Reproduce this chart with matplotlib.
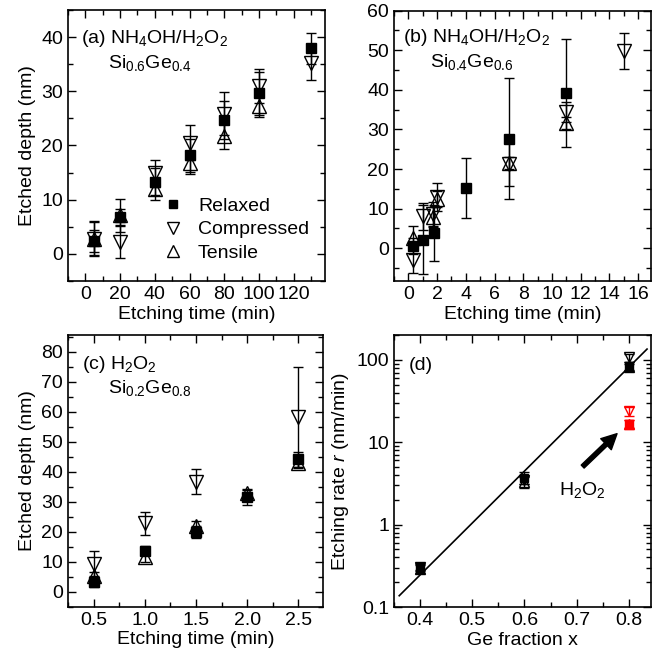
import numpy as np
import matplotlib
matplotlib.use('Agg')
import matplotlib.pyplot as plt
from matplotlib.ticker import MultipleLocator, FormatStrFormatter
from matplotlib.legend_handler import HandlerErrorbar

plt.rcParams['font.family'] = ['Liberation Sans', 'DejaVu Sans']
plt.rcParams['mathtext.fontset'] = 'custom'
plt.rcParams['mathtext.rm'] = 'Liberation Sans'
plt.rcParams['mathtext.it'] = 'Liberation Sans:italic'
plt.rcParams['mathtext.default'] = 'regular'
plt.rcParams['font.size'] = 14

# (a) NH4OH/H2O2, Si0.6Ge0.4
a_t_rel = [5, 20, 40, 60, 80, 100, 130]
a_rel = [2.4, 6.8, 13.3, 18.2, 24.7, 29.6, 37.9]
a_rel_err = [2.0, 1.5, 2.5, 3.0, 3.5, 4.0, 2.8]
a_t_com = [5, 20, 40, 60, 80, 100, 130]
a_com = [2.8, 2.2, 14.9, 20.5, 25.9, 31.0, 35.3]
a_com_err = [3.0, 3.0, 2.5, 3.2, 4.0, 3.2, 3.2]
a_t_ten = [5, 20, 40, 60, 80, 100]
a_ten = [2.8, 7.1, 12.0, 16.8, 21.7, 27.3]
a_ten_err = [3.2, 3.0, 2.0, 2.0, 2.3, 2.0]

# (b) NH4OH/H2O2, Si0.4Ge0.6
b_t_rel = [0.3, 1.0, 1.8, 4, 7, 11]
b_rel = [0.5, 2.1, 3.8, 15.2, 27.7, 39.2]
b_rel_err = [2.0, 8.7, 7.0, 7.5, 15.3, 13.7]
b_t_com = [0.3, 1.0, 1.7, 2.0, 7, 11, 15]
b_com = [-3.0, 8.0, 8.7, 13.0, 21.3, 34.5, 49.8]
b_com_err = [3.3, 3.5, 3.0, 3.5, 5.5, 2.5, 4.6]
b_t_ten = [0.3, 1.7, 2.0, 7, 11]
b_ten = [2.5, 7.8, 12.5, 21.5, 31.7]
b_ten_err = [3.0, 2.5, 2.0, 1.5, 1.5]

# (c) H2O2, Si0.2Ge0.8
c_t = [0.5, 1.0, 1.5, 2.0, 2.5]
c_rel = [3.3, 13.7, 20.0, 31.5, 44.1]
c_rel_err = [1.6, 1.5, 2.0, 2.5, 2.6]
c_t_com = [0.5, 1.0, 1.5, 2.5]
c_com = [9.4, 22.8, 36.7, 58.3]
c_com_err = [4.3, 3.9, 4.2, 16.7]
c_ten = [5.2, 11.7, 22.0, 32.8, 43.0]
c_ten_err = [1.5, 1.8, 1.5, 1.5, 1.8]

# (d) etching rate vs Ge fraction
d_x = [0.4, 0.6, 0.8]
d_rel = [0.30, 3.7, 85]
d_rel_err = [0.03, 0.6, 10]
d_com = [0.31, 3.5, 107]
d_com_err = [0.03, 0.4, 12]
d_ten = [0.29, 3.3, 81]
d_ten_err = [0.03, 0.5, 8]
h2o2_x = [0.8]
h2o2_rel = [16.8]
h2o2_rel_err = [2.0]
h2o2_com = [23.9]
h2o2_com_err = [3.0]
h2o2_ten = [16.5]
h2o2_ten_err = [2.0]
fit_x = [0.36, 0.835]
fit_r = [0.137, 135]

W, H = 659, 668
fig = plt.figure(figsize=(W / 100, H / 100), dpi=100)


def box(l, t, r, b):
    return [l / W, 1 - b / H, (r - l) / W, (b - t) / H]


def style(ax):
    ax.tick_params(which='both', direction='in', top=True, right=True)
    ax.tick_params(which='major', length=6, width=1)
    ax.tick_params(which='minor', length=3.5, width=1)
    for s in ax.spines.values():
        s.set_linewidth(1.2)


def series(ax, x, y, err, kind, color='k', ms=None):
    if kind == 'rel':
        kw = dict(marker='s', mfc=color, mec=color, ms=ms or 7)
    elif kind == 'com':
        kw = dict(marker='v', mfc='none', mec=color, ms=ms or 9.5)
    else:
        kw = dict(marker='^', mfc='none', mec=color, ms=ms or 9.5)
    return ax.errorbar(x, y, yerr=err, ls='none', color=color, ecolor=color,
                       elinewidth=1, capsize=3.5, capthick=1, mew=1, **kw)


# (a)
ax = fig.add_axes(box(68, 10, 325, 281))
style(ax)
h1 = series(ax, a_t_rel, a_rel, a_rel_err, 'rel')
h2 = series(ax, a_t_com, a_com, a_com_err, 'com')
h3 = series(ax, a_t_ten, a_ten, a_ten_err, 'ten')
ax.set_xlim(-10, 138)
ax.set_ylim(-5, 45)
ax.xaxis.set_major_locator(MultipleLocator(20))
ax.xaxis.set_minor_locator(MultipleLocator(10))
ax.yaxis.set_major_locator(MultipleLocator(10))
ax.yaxis.set_minor_locator(MultipleLocator(5))
ax.set_xlabel('Etching time (min)', labelpad=2)
ax.set_ylabel('Etched depth (nm)', labelpad=4)
ax.text(0.05, 0.878, r'(a) NH$_4$OH/H$_2$O$_2$', transform=ax.transAxes)
ax.text(0.156, 0.785, r'Si$_{0.6}$Ge$_{0.4}$', transform=ax.transAxes)
# legend shows only the markers, no error bars
leg_handles = [h[0] for h in (h1, h2, h3)]
ax.legend(leg_handles, ['Relaxed', 'Compressed', 'Tensile'],
          loc='center left', bbox_to_anchor=(0.37, 0.19), frameon=False,
          borderpad=0, borderaxespad=0, handlelength=1.0, handletextpad=0.8,
          labelspacing=0.3, fontsize=14, markerscale=0.85)

# (b)
ax = fig.add_axes(box(394, 10.7, 650.7, 281))
style(ax)
series(ax, b_t_rel, b_rel, b_rel_err, 'rel')
series(ax, b_t_com, b_com, b_com_err, 'com')
series(ax, b_t_ten, b_ten, b_ten_err, 'ten')
ax.set_xlim(-1, 16.87)
ax.set_ylim(-8.3, 60)
ax.xaxis.set_major_locator(MultipleLocator(2))
ax.xaxis.set_minor_locator(MultipleLocator(1))
ax.yaxis.set_major_locator(MultipleLocator(10))
ax.yaxis.set_minor_locator(MultipleLocator(5))
ax.set_xlabel('Etching time (min)', labelpad=2)
ax.text(0.034, 0.885, r'(b) NH$_4$OH/H$_2$O$_2$', transform=ax.transAxes)
ax.text(0.14, 0.79, r'Si$_{0.4}$Ge$_{0.6}$', transform=ax.transAxes)

# (c)
ax = fig.add_axes(box(68, 335, 323, 606.7))
style(ax)
series(ax, c_t, c_rel, c_rel_err, 'rel')
series(ax, c_t_com, c_com, c_com_err, 'com')
series(ax, c_t, c_ten, c_ten_err, 'ten')
ax.set_xlim(0.25, 2.74)
ax.set_ylim(-5, 85.6)
ax.xaxis.set_major_locator(MultipleLocator(0.5))
ax.xaxis.set_minor_locator(MultipleLocator(0.25))
ax.xaxis.set_major_formatter(FormatStrFormatter('%.1f'))
ax.yaxis.set_major_locator(MultipleLocator(10))
ax.yaxis.set_minor_locator(MultipleLocator(5))
ax.set_xlabel('Etching time (min)', labelpad=2)
ax.set_ylabel('Etched depth (nm)', labelpad=4)
ax.text(0.054, 0.874, r'(c) H$_2$O$_2$', transform=ax.transAxes)
ax.text(0.158, 0.788, r'Si$_{0.2}$Ge$_{0.8}$', transform=ax.transAxes)

# (d)
ax = fig.add_axes(box(394, 335, 650.7, 607))
style(ax)
ax.set_yscale('log')
ax.plot(fit_x, fit_r, color='k', lw=1.2)
series(ax, d_x, d_rel, d_rel_err, 'rel', ms=5.5)
series(ax, d_x, d_com, d_com_err, 'com', ms=7.5)
series(ax, d_x, d_ten, d_ten_err, 'ten', ms=7.5)
series(ax, h2o2_x, h2o2_rel, h2o2_rel_err, 'rel', color='red', ms=5.5)
series(ax, h2o2_x, h2o2_com, h2o2_com_err, 'com', color='red', ms=7.5)
series(ax, h2o2_x, h2o2_ten, h2o2_ten_err, 'ten', color='red', ms=7.5)
ax.set_xlim(0.35, 0.842)
ax.set_ylim(0.1, 200)
ax.xaxis.set_major_locator(MultipleLocator(0.1))
ax.xaxis.set_minor_locator(MultipleLocator(0.05))
ax.yaxis.set_major_formatter(FormatStrFormatter('%g'))
ax.set_xlabel('Ge fraction x', labelpad=2)
ax.set_ylabel(r'Etching rate $\mathit{r}$ (nm/min)', labelpad=4)
ax.text(0.058, 0.871, '(d)', transform=ax.transAxes)
ax.text(0.644, 0.412, r'H$_2$O$_2$', transform=ax.transAxes)
ax.annotate('', xy=(0.7775, 12.7), xytext=(0.7116, 5.06),
            arrowprops=dict(facecolor='black', edgecolor='black', width=3,
                            headwidth=11, headlength=11, shrink=0))

fig.savefig('out.png', dpi=100)
